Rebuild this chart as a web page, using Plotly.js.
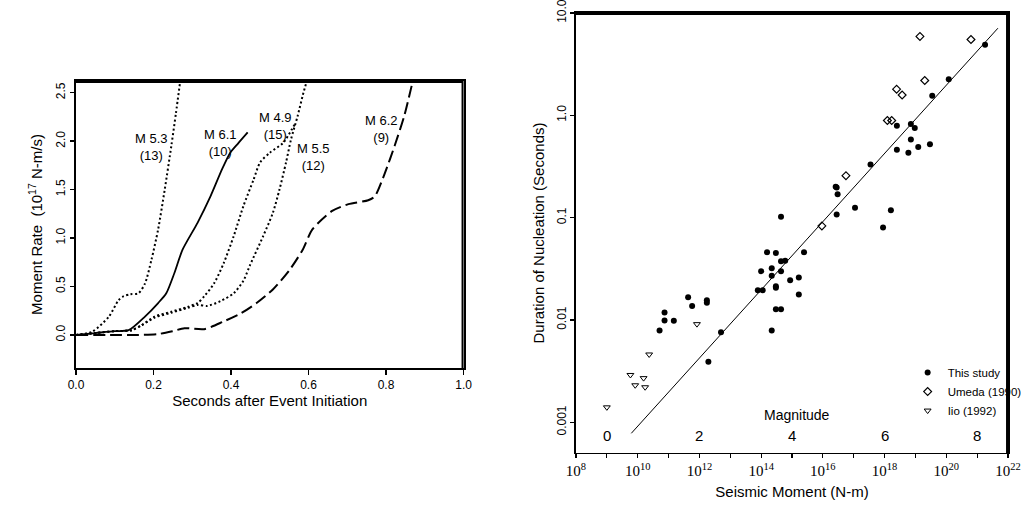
<!DOCTYPE html>
<html>
<head>
<meta charset="utf-8">
<script src="https://cdn.plot.ly/plotly-3.0.1.min.js"></script>
<style>html,body{margin:0;padding:0;background:#fff;overflow:hidden;}#chart{width:1027px;height:513px;}</style>
</head>
<body>
<div id="chart"></div>
<script>
// ---- Left panel: moment-rate functions (time in s, rate in 1e17 N-m/s)
const m53_t = [0, 0.042, 0.085, 0.11, 0.123, 0.14, 0.161, 0.178, 0.195, 0.212, 0.229, 0.246, 0.258, 0.269];
const m53_r = [0, 0.034, 0.19, 0.36, 0.40, 0.42, 0.43, 0.53, 0.78, 1.09, 1.50, 1.95, 2.29, 2.62];

const m61_t = [0, 0.05, 0.10, 0.136, 0.178, 0.212, 0.233, 0.254, 0.275, 0.314, 0.347, 0.377, 0.398, 0.419, 0.443];
const m61_r = [0, 0.02, 0.04, 0.05, 0.19, 0.33, 0.43, 0.64, 0.88, 1.16, 1.43, 1.71, 1.88, 1.98, 2.09];

const m49_t = [0, 0.05, 0.10, 0.144, 0.169, 0.203, 0.246, 0.288, 0.314, 0.331, 0.356, 0.381, 0.407, 0.432, 0.458, 0.475, 0.50, 0.534, 0.564];
const m49_r = [0, 0.02, 0.04, 0.05, 0.10, 0.19, 0.24, 0.29, 0.33, 0.40, 0.53, 0.74, 1.02, 1.33, 1.60, 1.78, 1.88, 1.98, 2.17];

const m55_t = [0, 0.05, 0.10, 0.144, 0.169, 0.203, 0.246, 0.288, 0.314, 0.339, 0.373, 0.407, 0.432, 0.449, 0.483, 0.508, 0.525, 0.542, 0.555, 0.572, 0.585, 0.597];
const m55_r = [0, 0.02, 0.04, 0.05, 0.10, 0.18, 0.23, 0.28, 0.31, 0.30, 0.35, 0.43, 0.56, 0.72, 1.02, 1.26, 1.50, 1.78, 2.02, 2.26, 2.47, 2.64];

const m62_t = [0, 0.10, 0.15, 0.212, 0.25, 0.28, 0.331, 0.381, 0.424, 0.466, 0.508, 0.551, 0.585, 0.61, 0.661, 0.703, 0.754, 0.771, 0.797, 0.822, 0.847, 0.869];
const m62_r = [0, 0.0, 0.0, 0.01, 0.04, 0.07, 0.06, 0.14, 0.22, 0.33, 0.47, 0.67, 0.88, 1.09, 1.28, 1.35, 1.39, 1.43, 1.67, 1.95, 2.26, 2.62];

const curveLabels = ["M 5.3<br>(13)", "M 6.1<br>(10)", "M 4.9<br>(15)", "M 5.5<br>(12)", "M 6.2<br>(9)"];
const curveLabelT = [0.196, 0.372, 0.514, 0.613, 0.789];
const curveLabelR = [1.94, 1.98, 2.16, 1.84, 2.13];

// ---- Right panel: nucleation duration vs seismic moment
const study_M0 = [1.8e21, 1.2e20, 3.5e19, 2.5e18, 7.1e18, 9.5e18, 7.1e18, 1.23e19, 2.95e19, 2.5e18, 5.9e18, 3.5e17,
  2.6e16, 2.8e16, 3.0e16, 2.8e16, 1.1e17, 1.6e18, 8.9e17, 4.4e14, 1.55e14, 3.0e14, 2.45e15, 4.4e14, 6.0e14, 1.0e14,
  2.2e14, 4.4e14, 2.2e14, 1.66e15, 8.7e14, 7.8e13, 1.12e14, 3.0e14, 3.0e14, 1.66e15, 3.0e14, 4.4e14, 2.2e14,
  4.3e11, 5.8e11, 1.74e12, 1.74e12, 7.4e10, 7.4e10, 1.48e11, 5.1e10, 5.0e12, 1.95e12];
const study_T = [4.9, 2.25, 1.55, 0.79, 0.82, 0.75, 0.58, 0.49, 0.52, 0.46, 0.43, 0.33,
  0.20, 0.197, 0.169, 0.107, 0.125, 0.118, 0.080, 0.102, 0.046, 0.045, 0.046, 0.0375, 0.038, 0.030,
  0.032, 0.030, 0.027, 0.026, 0.0244, 0.0195, 0.0195, 0.0213, 0.0206, 0.0177, 0.0127, 0.0127, 0.0079,
  0.0167, 0.0137, 0.0156, 0.0147, 0.0118, 0.0099, 0.0098, 0.0079, 0.0076, 0.0039];

const umeda_M0 = [1.4e19, 6.3e20, 2.0e19, 2.45e18, 3.7e18, 1.23e18, 1.7e18, 5.6e16, 9.3e15];
const umeda_T = [5.9, 5.5, 2.19, 1.8, 1.58, 0.89, 0.89, 0.257, 0.083];

const iio_M0 = [1.0e9, 5.8e9, 8.3e9, 1.55e10, 1.74e10, 2.35e10, 8.3e11];
const iio_T = [0.0014, 0.0029, 0.0023, 0.0027, 0.0022, 0.0046, 0.0091];

const fit_M0 = [6.2e9, 4.7e21];
const fit_T = [0.00078, 7.1];

const magnitudes = [0, 2, 4, 6, 8];
const magMoments = [1e9, 1e12, 1e15, 1e18, 1e21];

const xDecades = [1e8, 1e9, 1e10, 1e11, 1e12, 1e13, 1e14, 1e15, 1e16, 1e17, 1e18, 1e19, 1e20, 1e21, 1e22];
const xDecadeText = ["10<sup>8</sup>", "", "10<sup>10</sup>", "", "10<sup>12</sup>", "", "10<sup>14</sup>", "", "10<sup>16</sup>", "", "10<sup>18</sup>", "", "10<sup>20</sup>", "", "10<sup>22</sup>"];
const yTickVals = [0.001, 0.01, 0.1, 1, 10];
const yTickText = ["0.001", "0.01", "0.1", "1.0", "10.0"];

const SANS = "Liberation Sans, Arial, sans-serif";
const SERIF = "Liberation Serif, Times New Roman, serif";

const W = 1027, H = 513;
const leftDomX = [0.075, 0.4576], leftDomY = [0.2827, 0.8421];
const rightDomX = [0.5686, 0.9951], rightDomY = [0.117, 0.9747];
const leftRangeX = [0, 1], leftRangeY = [-0.34, 2.62];
const rightRangeX = [8, 22], rightRangeY = [-3.3, 1];

// frame outline (top and right sides) built from the axis ranges
function frameTrace(rx, ry, xa, ya, isLog, lw) {
  const f = isLog ? (v => Math.pow(10, v)) : (v => v);
  return {x: [f(rx[0]), f(rx[1]), f(rx[1])], y: [f(ry[1]), f(ry[1]), f(ry[0])], mode: "lines",
    line: {color: "#000", width: lw}, showlegend: false, hoverinfo: "skip", xaxis: xa, yaxis: ya};
}

const dotDash = "2px,2.5px";
const sp = {shape: "spline", smoothing: 0.7};
const traces = [
  {x: m53_t, y: m53_r, mode: "lines", line: Object.assign({color: "#000", width: 2, dash: dotDash}, sp), showlegend: false, xaxis: "x", yaxis: "y"},
  {x: m61_t, y: m61_r, mode: "lines", line: Object.assign({color: "#000", width: 1.8}, sp), showlegend: false, xaxis: "x", yaxis: "y"},
  {x: m49_t, y: m49_r, mode: "lines", line: Object.assign({color: "#000", width: 2, dash: dotDash}, sp), showlegend: false, xaxis: "x", yaxis: "y"},
  {x: m55_t, y: m55_r, mode: "lines", line: Object.assign({color: "#000", width: 2, dash: dotDash}, sp), showlegend: false, xaxis: "x", yaxis: "y"},
  {x: m62_t, y: m62_r, mode: "lines", line: Object.assign({color: "#000", width: 2, dash: "12px,5px"}, sp), showlegend: false, xaxis: "x", yaxis: "y"},
  frameTrace(leftRangeX, leftRangeY, "x", "y", false, 4),
  frameTrace(rightRangeX, rightRangeY, "x2", "y2", true, 4),
  {x: fit_M0, y: fit_T, mode: "lines", line: {color: "#000", width: 1}, showlegend: false, xaxis: "x2", yaxis: "y2"},
  {x: study_M0, y: study_T, mode: "markers", name: "This study", marker: {symbol: "circle", size: 6, color: "#000"}, xaxis: "x2", yaxis: "y2"},
  {x: umeda_M0, y: umeda_T, mode: "markers", name: "Umeda (1990)", marker: {symbol: "diamond-open", size: 6, color: "#000", line: {width: 1.2}}, xaxis: "x2", yaxis: "y2"},
  {x: iio_M0, y: iio_T, mode: "markers", name: "Iio (1992)", marker: {symbol: "triangle-down-open", size: 6, color: "#000", line: {width: 1}}, xaxis: "x2", yaxis: "y2"}
];

const annotations = [];
for (let i = 0; i < curveLabels.length; i++) {
  annotations.push({x: curveLabelT[i], y: curveLabelR[i], xref: "x", yref: "y", text: curveLabels[i], showarrow: false,
    font: {family: SANS, size: 13, color: "#000"}, align: "center", xanchor: "center", yanchor: "middle"});
}
for (let i = 0; i < magnitudes.length; i++) {
  annotations.push({x: Math.log10(magMoments[i]), y: 0.152, xref: "x2", yref: "paper", text: String(magnitudes[i]), showarrow: false,
    xanchor: "center", yanchor: "middle", font: {family: SANS, size: 15, color: "#000"}});
}
annotations.push({x: 15.16, y: 0.191, xref: "x2", yref: "paper", text: "Magnitude", showarrow: false,
  xanchor: "center", yanchor: "middle", font: {family: SANS, size: 14, color: "#000"}});

const layout = {
  width: W, height: H,
  margin: {l: 0, r: 0, t: 0, b: 0},
  paper_bgcolor: "#fff", plot_bgcolor: "#fff",
  font: {family: SANS, color: "#000"},
  showlegend: true,
  legend: {x: 0.896, y: 0.302, xanchor: "left", yanchor: "top", font: {family: SANS, size: 11.5, color: "#000"},
    bgcolor: "rgba(0,0,0,0)", itemwidth: 30, tracegroupgap: 0},
  xaxis: {domain: leftDomX, range: leftRangeX, anchor: "y", tickvals: [0, 0.2, 0.4, 0.6, 0.8, 1.0], tickformat: ".1f",
    showline: true, mirror: true, linewidth: 2, linecolor: "#000", ticks: "outside", ticklen: 5, tickwidth: 1.5, tickcolor: "#000",
    showgrid: false, zeroline: false, tickfont: {family: SANS, size: 12}, ticklabeloverflow: "allow",
    title: {text: "Seconds after Event Initiation", font: {family: SANS, size: 15}, standoff: 4}},
  yaxis: {domain: leftDomY, range: leftRangeY, anchor: "x", tickvals: [0, 0.5, 1.0, 1.5, 2.0, 2.5], tickformat: ".1f",
    tickangle: -90, showline: true, mirror: true, linewidth: 2, linecolor: "#000", ticks: "outside", ticklen: 4, tickwidth: 1.5, tickcolor: "#000",
    showgrid: false, zeroline: false, tickfont: {family: SANS, size: 12}, ticklabeloverflow: "allow",
    title: {text: "Moment Rate  (10<sup>17</sup> N-m/s)", font: {family: SANS, size: 15}, standoff: 8}},
  xaxis2: {domain: rightDomX, type: "log", range: rightRangeX, anchor: "y2", tickvals: xDecades, ticktext: xDecadeText,
    showline: true, mirror: true, linewidth: 1.5, linecolor: "#000", ticks: "outside", ticklen: 4, tickwidth: 1.2, tickcolor: "#000",
    showgrid: false, zeroline: false, tickangle: 0, tickfont: {family: SERIF, size: 15}, ticklabeloverflow: "allow",
    title: {text: "Seismic Moment (N-m)", font: {family: SANS, size: 15}, standoff: 8}},
  yaxis2: {domain: rightDomY, type: "log", range: rightRangeY, anchor: "x2", tickvals: yTickVals, ticktext: yTickText,
    tickangle: -90, showline: true, mirror: true, linewidth: 1.5, linecolor: "#000", ticks: "outside", ticklen: 4, tickwidth: 1.2, tickcolor: "#000",
    showgrid: false, zeroline: false, tickfont: {family: SANS, size: 12}, ticklabeloverflow: "allow",
    title: {text: "Duration of Nucleation (Seconds)", font: {family: SANS, size: 15}, standoff: 6}},
  annotations: annotations
};

Plotly.newPlot("chart", traces, layout, {displayModeBar: false, staticPlot: true});
</script>
</body>
</html>
